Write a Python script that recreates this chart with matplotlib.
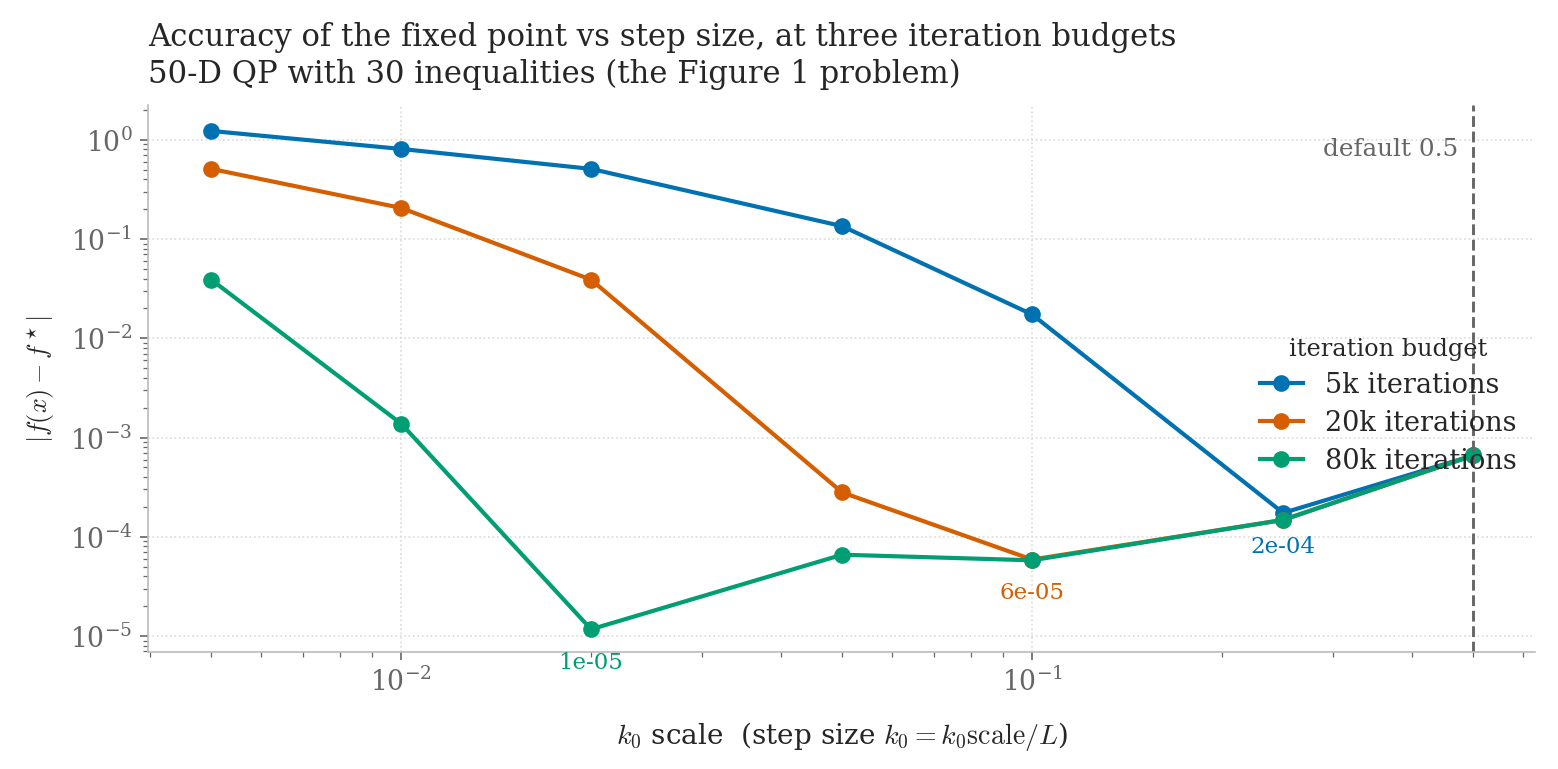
import numpy as np
import matplotlib
matplotlib.use("Agg")
import matplotlib.pyplot as plt
import matplotlib.transforms as mtransforms

plt.rcParams['font.family'] = ['DejaVu Serif']

# data
k0_scale = [0.005, 0.01, 0.02, 0.05, 0.1, 0.25, 0.5]
err_5k = [1.23, 0.81, 0.51, 0.135, 0.0174, 1.74e-4, 6.6e-4]
err_20k = [0.51, 0.206, 0.039, 2.8e-4, 5.9e-5, 1.48e-4, 6.6e-4]
err_80k = [0.039, 1.38e-3, 1.17e-5, 6.6e-5, 5.8e-5, 1.48e-4, 6.6e-4]
labels = ["5k iterations", "20k iterations", "80k iterations"]
colors = ["#0072B2", "#D55E00", "#009E73"]
min_labels = ["2e-04", "6e-05", "1e-05"]
default_k0 = 0.5

fig, ax = plt.subplots(figsize=(10.39, 5.13), dpi=150)
fig.subplots_adjust(left=0.095, right=0.985, top=0.863, bottom=0.152)

series = [err_5k, err_20k, err_80k]
for ys, lab, c, ml in zip(series, labels, colors, min_labels):
    ax.plot(k0_scale, ys, '-o', color=c, lw=2, ms=7, label=lab)
    i = int(np.argmin(ys))
    ax.annotate(ml, (k0_scale[i], ys[i]), xytext=(0, -16), textcoords='offset points',
                ha='center', va='center', color=c, fontsize=11)

ax.axvline(default_k0, color='#666666', ls='--', lw=1.4)
trans = mtransforms.blended_transform_factory(ax.transData, ax.transAxes)
ax.annotate("default 0.5", (default_k0, 0.92), xycoords=trans, xytext=(-7, 0),
            textcoords='offset points', ha='right', va='center', color='#666666', fontsize=11.8)

ax.set_xscale('log')
ax.set_yscale('log')
ax.set_xlim(0.00397, 0.627)
ax.set_ylim(6.9e-6, 2.25)

ax.grid(True, which='major', ls=':', color='#dadada', lw=0.8)
for s in ['top', 'right']:
    ax.spines[s].set_visible(False)
for s in ['left', 'bottom']:
    ax.spines[s].set_color('#bbbbbb')
ax.tick_params(which='both', colors='#666666', labelsize=12.8)
ax.tick_params(which='major', length=4)
ax.tick_params(which='minor', length=2.5)

ax.set_title("Accuracy of the fixed point vs step size, at three iteration budgets\n"
             "50-D QP with 30 inequalities (the Figure 1 problem)",
             loc='left', fontsize=14.7, color='#262626', pad=11)
ax.set_xlabel(r"$k_0$ scale  (step size $k_0 = k_0\mathrm{scale}/L$)", fontsize=13.4,
              color='#262626', math_fontfamily='cm', labelpad=11)
ax.set_ylabel(r"$|f(x) - f^\star|$", fontsize=12.5, color='#262626', math_fontfamily='cm',
              labelpad=6)

leg = ax.legend(title="iteration budget", loc='center right', bbox_to_anchor=(1.004, 0.45),
                frameon=False, fontsize=13, title_fontsize=11.5, handlelength=1.6,
                handletextpad=0.8, labelspacing=0.4)
for t in leg.get_texts():
    t.set_color('#262626')
leg.get_title().set_color('#262626')

fig.savefig("out.png", dpi=150)
